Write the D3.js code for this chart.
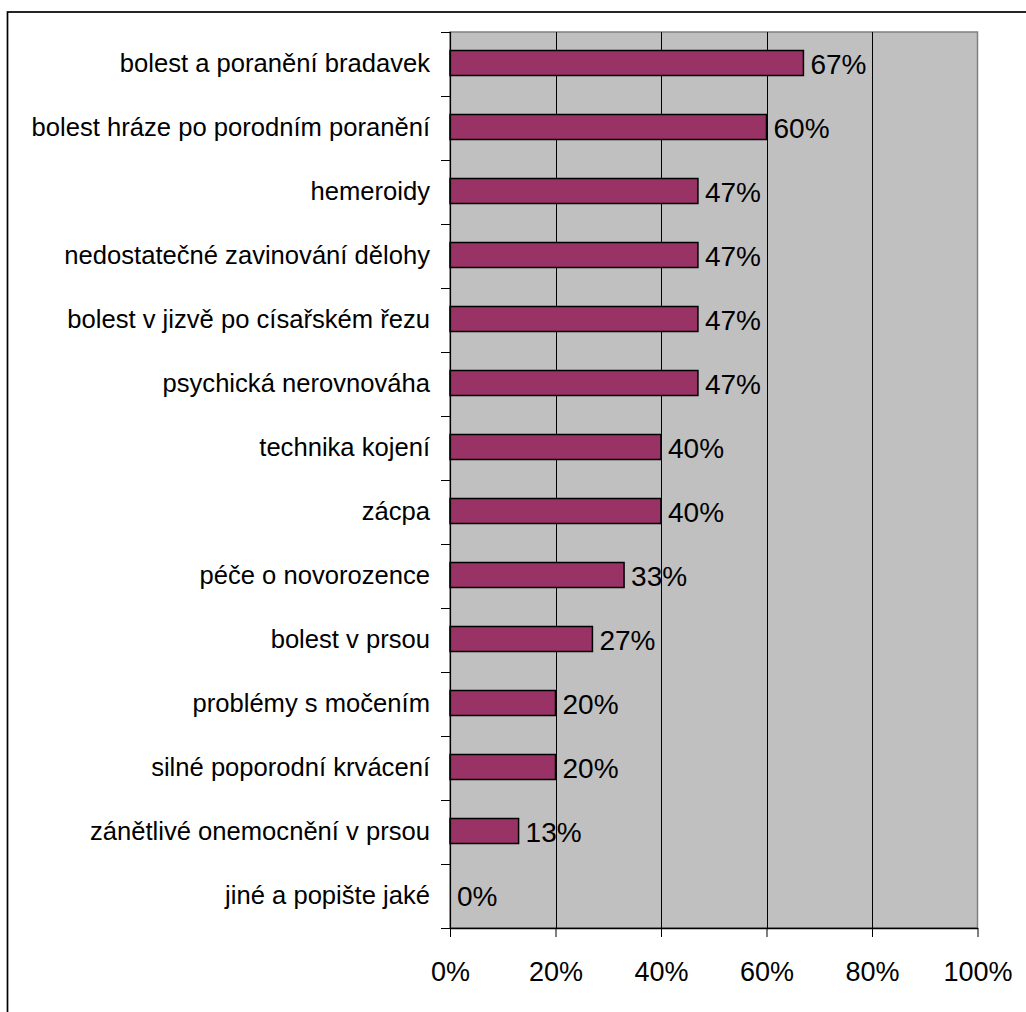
<!DOCTYPE html>
<html>
<head>
<meta charset="utf-8">
<script src="https://cdn.jsdelivr.net/npm/d3@7"></script>
<style>
  html, body { margin: 0; padding: 0; background: #fff; }
  svg { display: block; }
  text { font-family: "Liberation Sans", Arial, sans-serif; fill: #000; }
</style>
</head>
<body>
<svg id="chart" width="1026" height="1012"></svg>
<script>
// Problems reported after childbirth (share of respondents)
const categories = [
  "bolest a poranění bradavek",
  "bolest hráze po porodním poranění",
  "hemeroidy",
  "nedostatečné zavinování dělohy",
  "bolest v jizvě po císařském řezu",
  "psychická nerovnováha",
  "technika kojení",
  "zácpa",
  "péče o novorozence",
  "bolest v prsou",
  "problémy s močením",
  "silné poporodní krvácení",
  "zánětlivé onemocnění v prsou",
  "jiné a popište jaké"
];
const values = [67, 60, 47, 47, 47, 47, 40, 40, 33, 27, 20, 20, 13, 0];
const tickValues = [0, 20, 40, 60, 80, 100];

const svg = d3.select("#chart");
const plot = { left: 450, right: 977.5, top: 32, bottom: 928 };

// outer chart frame
svg.append("rect")
  .attr("x", 7.5).attr("y", 12)
  .attr("width", 1040).attr("height", 1020)
  .attr("fill", "#fff").attr("stroke", "#000").attr("stroke-width", 1.7);

const x = d3.scaleLinear().domain([0, 100]).range([plot.left, plot.right]);
const yBand = d3.scaleBand().domain(categories).range([plot.top, plot.bottom]);

// plot area
svg.append("rect")
  .attr("x", plot.left).attr("y", plot.top)
  .attr("width", plot.right - plot.left).attr("height", plot.bottom - plot.top)
  .attr("fill", "#C0C0C0").attr("stroke", "#808080").attr("stroke-width", 1.5);

// vertical gridlines
svg.append("g").selectAll("line")
  .data(tickValues.filter(t => t > 0 && t < 100))
  .join("line")
  .attr("x1", d => Math.round(x(d)) + 0.5).attr("x2", d => Math.round(x(d)) + 0.5)
  .attr("y1", plot.top).attr("y2", plot.bottom)
  .attr("stroke", "#000").attr("stroke-width", 1);

// bars
svg.append("g").selectAll("rect")
  .data(values.map((v, i) => ({ c: categories[i], v })))
  .join("rect")
  .filter(d => d.v > 0)
  .attr("x", x(0))
  .attr("y", d => yBand(d.c) + yBand.bandwidth() / 2 - 13.5)
  .attr("width", d => x(d.v) - x(0))
  .attr("height", 25)
  .attr("fill", "#993366").attr("stroke", "#000").attr("stroke-width", 1.5);

// value labels
svg.append("g").selectAll("text")
  .data(values.map((v, i) => ({ c: categories[i], v })))
  .join("text")
  .attr("x", d => x(d.v) + 7)
  .attr("y", d => yBand(d.c) + yBand.bandwidth() / 2)
  .attr("dy", "0.35em")
  .attr("font-size", 28)
  .text(d => d.v + "%");

// category axis
const yAxis = d3.axisLeft(yBand).tickSize(0).tickPadding(20);
const gy = svg.append("g").attr("transform", `translate(${plot.left},0)`).call(yAxis);
gy.select(".domain").remove();
gy.selectAll("text").attr("font-size", 25.6).attr("font-family", null).attr("fill", "#000").attr("dy", "0.33em");
// tick marks between categories
svg.append("g").selectAll("line")
  .data(d3.range(categories.length + 1))
  .join("line")
  .attr("x1", plot.left - 9).attr("x2", plot.left)
  .attr("y1", i => plot.top + i * yBand.step() + 0.5)
  .attr("y2", i => plot.top + i * yBand.step() + 0.5)
  .attr("stroke", "#000").attr("stroke-width", 1);
svg.append("line")
  .attr("x1", plot.left + 0.5).attr("x2", plot.left + 0.5)
  .attr("y1", plot.top).attr("y2", plot.bottom)
  .attr("stroke", "#000").attr("stroke-width", 1.2);

// value axis
const xAxis = d3.axisBottom(x).tickValues(tickValues).tickFormat(d => d + "%").tickSize(9).tickPadding(25).tickSizeOuter(0);
const gx = svg.append("g").attr("transform", `translate(0,${plot.bottom})`).call(xAxis);
gx.select(".domain").attr("stroke", "#000").attr("stroke-width", 1.5);
gx.selectAll(".tick line").attr("stroke", "#000");
gx.selectAll("text").attr("font-size", 27).attr("font-family", null).attr("fill", "#000");
</script>
</body>
</html>
